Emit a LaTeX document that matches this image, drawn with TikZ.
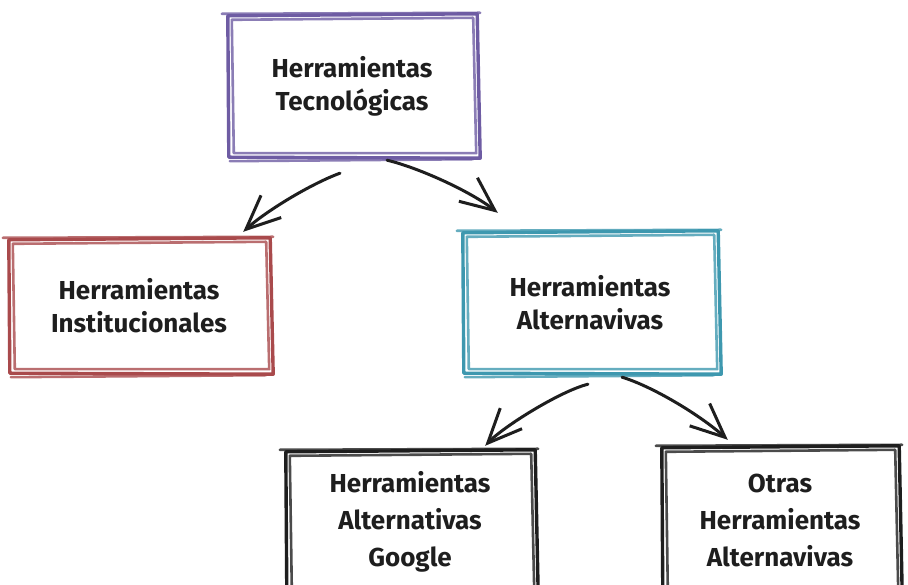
\documentclass[tikz,border=0pt]{standalone}
\usepackage{fontspec}
\setmainfont{Fira Sans}
\usetikzlibrary{arrows.meta}
\definecolor{cpurple}{HTML}{6E5CA3}
\definecolor{cred}{HTML}{A94A4C}
\definecolor{cteal}{HTML}{3E98AF}
\definecolor{cblack}{HTML}{1E1E1E}
\tikzset{
  boxnode/.style={inner sep=0pt, align=center, font=\bfseries\fontsize{26}{33}\selectfont, text=cblack},
  skA/.style={line width=3.4pt, line cap=round, line join=round},
  skB/.style={line width=2.6pt, line cap=round, line join=round, opacity=.8},
  arr/.style={cblack, line width=3pt, line cap=round, -{Straight Barb[length=34pt,width=30pt,line width=3pt]}}
}
\newcommand\skbox[2]{%
  \draw[#2, skA] ([shift={(-1,0)}]#1.north west) -- ([shift={(2,2)}]#1.north east) -- ([shift={(5,-2)}]#1.south east) -- ([shift={(0,-1)}]#1.south west) -- cycle;
  \draw[#2, skB] ([shift={(3,-4)}]#1.north west) -- ([shift={(-2,-2)}]#1.north east) -- ([shift={(1,3)}]#1.south east) -- ([shift={(5,3)}]#1.south west) -- cycle;
  \draw[#2, skB] ([shift={(-7,2)}]#1.north west) -- ([shift={(5,3)}]#1.north east);
  \draw[#2, skB] ([shift={(1,-5)}]#1.south west) -- ([shift={(-2,-3)}]#1.south east);
}
\begin{document}
\begin{tikzpicture}[x=1pt,y=1pt]
\useasboundingbox (0,0) rectangle (908,585);
\clip (0,0) rectangle (908,585);
\node[boxnode, minimum width=246pt, minimum height=140pt] (top) at (352,499) {Herramientas\\Tecnológicas};
\node[boxnode, minimum width=258pt, minimum height=132pt] (left) at (139,279) {Herramientas\\Institucionales};
\node[boxnode, minimum width=252pt, minimum height=139pt] (mid) at (590,282.5) {Herramientas\\Alternavivas};
\node[boxnode, minimum width=246pt, minimum height=140pt, font=\bfseries\fontsize{26}{37}\selectfont] (bl) at (410,63) {Herramientas\\Alternativas\\Google};
\node[boxnode, minimum width=234pt, minimum height=144pt, font=\bfseries\fontsize{26}{37}\selectfont] (br) at (780,65) {Otras\\Herramientas\\Alternavivas};
\skbox{top}{cpurple}
\skbox{left}{cred}
\skbox{mid}{cteal}
\skbox{bl}{cblack}
\skbox{br}{cblack}
\draw[arr] ([shift={(-12,-17)}]top.south) .. controls +(-30,-11) and +(22,20) .. ([shift={(-25,8)}]left.north east);
\draw[arr] ([shift={(35,-4)}]top.south) .. controls +(30,-7) and +(-28,22) .. ([shift={(34,20)}]mid.north west);
\draw[arr] ([shift={(-2,-12)}]mid.south) .. controls +(-28,-7) and +(18,19) .. ([shift={(-48,6)}]bl.north east);
\draw[arr] ([shift={(32,-5)}]mid.south) .. controls +(30,-9) and +(-28,25) .. ([shift={(65,8)}]br.north west);
\end{tikzpicture}
\end{document}
